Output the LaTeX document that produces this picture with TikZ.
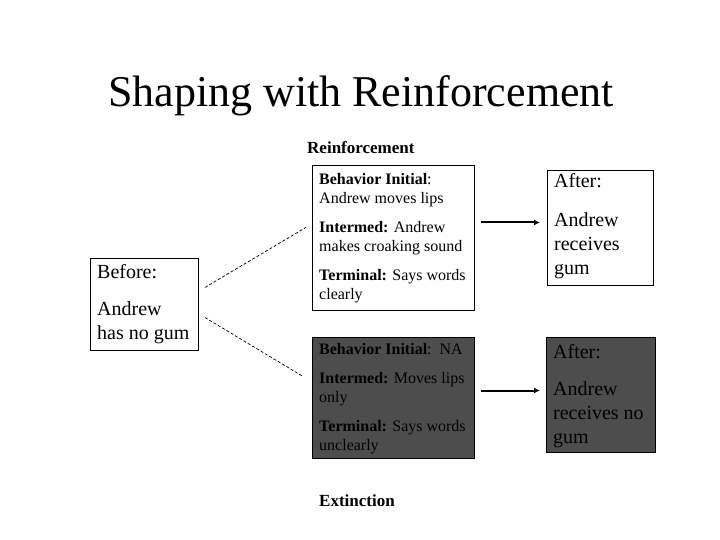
\documentclass[tikz,border=0pt]{standalone}
\usepackage{fontspec}
\setmainfont{Liberation Serif}
\usetikzlibrary{arrows.meta}
\definecolor{darkfill}{HTML}{4D4D4D}
\tikzset{
  box/.style={draw=black, line width=1pt, inner sep=0pt, anchor=north west},
  darkbox/.style={box, fill=darkfill},
  txt/.style={inner sep=0pt, anchor=base west, text=black},
  dashline/.style={draw=black, line width=0.7pt, dash pattern=on 3pt off 2pt},
  arrowline/.style={draw=black, line width=2pt, -{Latex[length=6pt,width=6pt]}},
}
\newcommand{\midtext}[1]{\parbox[t]{156pt}{\fontsize{16}{19}\selectfont\raggedright #1}}
\newcommand{\bigtext}[1]{\parbox[t]{110pt}{\fontsize{20}{24}\selectfont\raggedright #1}}
\newcommand{\gapsmall}{\par\vspace{10pt}}
\newcommand{\gapbig}{\par\vspace{13pt}}
\begin{document}
\begin{tikzpicture}[x=1pt,y=-1pt]
\useasboundingbox[fill=white] (0,0) rectangle (720,540);
% title
\node[txt, anchor=base] (title) at (361,107) {\fontsize{44}{50}\selectfont Shaping with Reinforcement};
\node[txt] (reinf) at (307,154) {\fontsize{17}{20}\selectfont\bfseries Reinforcement};
\node[txt] (ext) at (319,506) {\fontsize{17}{20}\selectfont\bfseries Extinction};
% boxes
\node[box, minimum width=108pt, minimum height=92pt] (before) at (90,258) {};
\node[box, minimum width=162pt, minimum height=145pt] (b1) at (312,165) {};
\node[box, minimum width=106pt, minimum height=115pt] (r1) at (547,170) {};
\node[darkbox, minimum width=162pt, minimum height=121pt] (b2) at (312,337) {};
\node[darkbox, minimum width=109pt, minimum height=115pt] (r2) at (546,337) {};
% texts
\node[txt] (tbefore) at (97,278) {\bigtext{Before:\gapbig Andrew\\has no gum}};
\node[txt] (tb1) at (319,185) {\midtext{\textbf{Behavior Initial}:\\Andrew moves lips\gapsmall\textbf{Intermed:} Andrew\\makes croaking sound\gapsmall\textbf{Terminal:} Says words\\clearly}};
\node[txt] (tb2) at (319,354) {\midtext{\textbf{Behavior Initial}:\ \ NA\gapsmall\textbf{Intermed:} Moves lips\\only\gapsmall\textbf{Terminal:} Says words\\unclearly}};
\node[txt] (tr1) at (554,188) {\bigtext{After:\par\vspace{15pt}Andrew\\receives\\gum}};
\node[txt] (tr2) at (553,358) {\bigtext{After:\gapbig Andrew\\receives no\\gum}};
% connectors
\draw[dashline, shorten <=7pt, shorten >=7pt] ([yshift=13.5pt]before.east) -- ([yshift=14.2pt]b1.west);
\draw[dashline, shorten <=7pt, shorten >=10.5pt] ([yshift=-9.4pt]before.east) -- ([yshift=16.1pt]b2.west);
\draw[arrowline, shorten <=6pt, shorten >=7pt] ([yshift=15.5pt]b1.east) -- ([yshift=5.5pt]r1.west);
\draw[arrowline, shorten <=6pt, shorten >=6pt] ([yshift=7.5pt]b2.east) -- ([yshift=4.5pt]r2.west);
\end{tikzpicture}
\end{document}
